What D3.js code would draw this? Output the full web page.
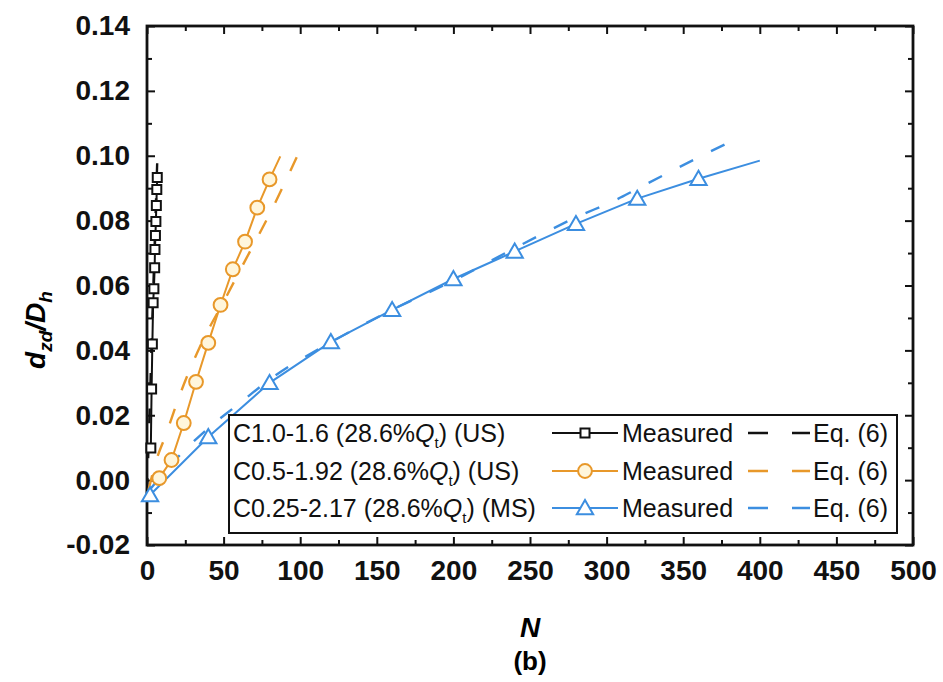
<!DOCTYPE html>
<html lang="en">
<head>
  <meta charset="UTF-8" />
  <title>dzd/Dh vs N</title>
  <script src="https://d3js.org/d3.v7.min.js"></script>
  <style>
    body { margin: 0; background: #fff; }
    svg { font-family: "Liberation Sans", Arial, sans-serif; }
    .tick text { font-size: 28px; font-weight: bold; fill: #111; }
    .legend text { font-size: 25px; fill: #111; }
  </style>
</head>
<body>
  <div id="chart"></div>
  <script>
    const width = 943, height = 682;
    const plot = {left: 147, right: 913, top: 26, bottom: 545};

    // C1.0-1.6 (US)
    const blackN = [2.5, 3, 3.5, 4, 4.5, 5, 5.2, 5.5, 5.8, 6.1, 6.4, 6.7];
    const blackD = [0.0099, 0.0281, 0.042, 0.0547, 0.059, 0.0655, 0.0711, 0.0754, 0.0797, 0.0847, 0.0896, 0.0933];
    const blackEqN = [0, 1.5, 3, 4.5, 6, 7];
    const blackEqD = [-0.004, 0.018, 0.042, 0.065, 0.088, 0.103];

    // C0.5-1.92 (US)
    const orangeN = [8, 16, 24, 32, 40, 48, 56, 64, 72, 80];
    const orangeD = [0.0006, 0.0062, 0.0176, 0.0303, 0.0423, 0.054, 0.065, 0.0735, 0.084, 0.0927];
    const orangeTailN = [87], orangeTailD = [0.0998];
    const orangeEqN = [1, 6, 12, 22, 36, 50, 65, 80, 98];
    const orangeEqD = [-0.003, 0.006, 0.0136, 0.027, 0.0426, 0.055, 0.0685, 0.082, 0.0998];

    // C0.25-2.17 (MS)
    const blueN = [2, 40, 80, 120, 160, 200, 240, 280, 320, 360];
    const blueD = [-0.0046, 0.0133, 0.030, 0.0426, 0.0525, 0.062, 0.0705, 0.079, 0.0868, 0.0929];
    const blueTailN = [400], blueTailD = [0.0985];
    const blueEqN = [0, 20, 40, 60, 80, 120, 160, 200, 240, 280, 307, 320, 360, 386];
    const blueEqD = [-0.004, 0.007, 0.016, 0.0235, 0.031, 0.0425, 0.0525, 0.0615, 0.0715, 0.081, 0.0866, 0.0898, 0.0995, 0.1055];

    const xTicks = [0, 50, 100, 150, 200, 250, 300, 350, 400, 450, 500];
    const yTicks = [-0.02, 0, 0.02, 0.04, 0.06, 0.08, 0.10, 0.12, 0.14];
    const legendLabels = ["C1.0-1.6 (28.6%", "C0.5-1.92 (28.6%", "C0.25-2.17 (28.6%"];
    const legendTails = [") (US)", ") (US)", ") (MS)"];

    const black = "#111", orange = "#E8982A", blue = "#3C8EE0";

    const svg = d3.select("#chart").append("svg")
      .attr("width", width).attr("height", height);

    const x = d3.scaleLinear().domain([0, 500]).range([plot.left, plot.right]);
    const y = d3.scaleLinear().domain([-0.02, 0.14]).range([plot.bottom, plot.top]);

    const fmtY = v => d3.format(".2f")(v).replace("\u2212", "-");
    const minorX = d3.range(25, 500, 50);
    const minorY = d3.range(-0.01, 0.14, 0.02);

    // axes, ticks pointing inward on all four sides
    function axisGroup(axis, tx, ty) {
      const g = svg.append("g").attr("transform", `translate(${tx},${ty})`).call(axis);
      g.select(".domain").remove();
      g.selectAll(".tick line").attr("stroke", black).attr("stroke-width", 2);
      return g;
    }
    axisGroup(d3.axisBottom(x).tickValues(xTicks).tickSize(-8).tickPadding(15), 0, plot.bottom);
    axisGroup(d3.axisBottom(x).tickValues(minorX).tickSize(-5).tickFormat(""), 0, plot.bottom);
    axisGroup(d3.axisTop(x).tickValues(xTicks).tickSize(-8).tickFormat(""), 0, plot.top);
    axisGroup(d3.axisTop(x).tickValues(minorX).tickSize(-5).tickFormat(""), 0, plot.top);
    axisGroup(d3.axisLeft(y).tickValues(yTicks).tickSize(-8).tickPadding(17).tickFormat(fmtY), plot.left, 0);
    axisGroup(d3.axisLeft(y).tickValues(minorY).tickSize(-5).tickFormat(""), plot.left, 0);
    axisGroup(d3.axisRight(y).tickValues(yTicks).tickSize(-8).tickFormat(""), plot.right, 0);
    axisGroup(d3.axisRight(y).tickValues(minorY).tickSize(-5).tickFormat(""), plot.right, 0);

    svg.append("rect")
      .attr("x", plot.left).attr("y", plot.top)
      .attr("width", plot.right - plot.left).attr("height", plot.bottom - plot.top)
      .attr("fill", "none").attr("stroke", black).attr("stroke-width", 2.8);

    const zip = (ns, ds) => ns.map((n, i) => ({n, d: ds[i]}));
    const straight = d3.line().x(p => x(p.n)).y(p => y(p.d));
    const smooth = d3.line().x(p => x(p.n)).y(p => y(p.d)).curve(d3.curveMonotoneX);

    const series = [
      {pts: zip(blackN, blackD), tail: [], eq: zip(blackEqN, blackEqD), color: black, mark: "square", fill: "#fff"},
      {pts: zip(orangeN, orangeD), tail: zip(orangeTailN, orangeTailD), eq: zip(orangeEqN, orangeEqD), color: orange, mark: "circle", fill: "#FFF6DC"},
      {pts: zip(blueN, blueD), tail: zip(blueTailN, blueTailD), eq: zip(blueEqN, blueEqD), color: blue, mark: "triangle", fill: "#fff"}
    ];

    const symbolFor = m => m === "square" ? d3.symbol(d3.symbolSquare, 81)
      : m === "circle" ? d3.symbol(d3.symbolCircle, 150)
      : d3.symbol(d3.symbolTriangle, 115);

    const dataLayer = svg.append("g");
    series.forEach(s => {
      dataLayer.append("path").datum(s.eq)
        .attr("fill", "none").attr("stroke", s.color).attr("stroke-width", 2.4)
        .attr("stroke-dasharray", "15,20").attr("d", smooth);
      dataLayer.append("path").datum(s.pts.concat(s.tail))
        .attr("fill", "none").attr("stroke", s.color).attr("stroke-width", 2)
        .attr("d", straight);
    });
    series.forEach(s => {
      dataLayer.selectAll(null).data(s.pts).enter().append("path")
        .attr("transform", p => `translate(${x(p.n)},${y(p.d) + (s.mark === "triangle" ? 1.5 : 0)})`)
        .attr("d", symbolFor(s.mark))
        .attr("fill", s.fill).attr("stroke", s.color).attr("stroke-width", 2);
    });

    // legend
    const legend = svg.append("g").attr("class", "legend");
    legend.append("rect")
      .attr("x", 229).attr("y", 415).attr("width", 668).attr("height", 118)
      .attr("fill", "#fff").attr("stroke", black).attr("stroke-width", 2);
    const rowY = [433, 471, 508];
    series.forEach((s, i) => {
      const ry = rowY[i];
      const t = legend.append("text").attr("x", 233).attr("y", ry).attr("dy", "0.35em");
      t.append("tspan").text(legendLabels[i]);
      t.append("tspan").attr("font-style", "italic").text("Q");
      t.append("tspan").attr("font-size", "15px").attr("dy", "6").text("t");
      t.append("tspan").attr("dy", "-6").text(legendTails[i]);

      legend.append("line").attr("x1", 552).attr("x2", 618).attr("y1", ry).attr("y2", ry)
        .attr("stroke", s.color).attr("stroke-width", 2);
      legend.append("path").attr("transform", `translate(585,${ry + (s.mark === "triangle" ? 1.5 : 0)})`)
        .attr("d", symbolFor(s.mark))
        .attr("fill", s.fill).attr("stroke", s.color).attr("stroke-width", 2);
      legend.append("text").attr("x", 622).attr("y", ry).attr("dy", "0.35em").text("Measured");

      legend.append("line").attr("x1", 748).attr("x2", 810).attr("y1", ry).attr("y2", ry)
        .attr("stroke", s.color).attr("stroke-width", 2.4).attr("stroke-dasharray", "20,24");
      legend.append("text").attr("x", 813).attr("y", ry).attr("dy", "0.35em").text("Eq. (6)");
    });

    // axis titles
    const yl = svg.append("text")
      .attr("transform", "translate(45,330) rotate(-90)")
      .attr("text-anchor", "middle")
      .style("font-size", "28px").style("font-weight", "bold").style("font-style", "italic");
    yl.append("tspan").text("d");
    yl.append("tspan").attr("font-size", "19px").attr("dy", "7").text("zd");
    yl.append("tspan").attr("dy", "-7").text("/D");
    yl.append("tspan").attr("font-size", "19px").attr("dy", "7").text("h");

    svg.append("text").attr("x", (plot.left + plot.right) / 2).attr("y", 637)
      .attr("text-anchor", "middle")
      .style("font-size", "28px").style("font-weight", "bold").style("font-style", "italic")
      .text("N");
    svg.append("text").attr("x", (plot.left + plot.right) / 2).attr("y", 670)
      .attr("text-anchor", "middle")
      .style("font-size", "26px").style("font-weight", "bold")
      .text("(b)");
  </script>
</body>
</html>
